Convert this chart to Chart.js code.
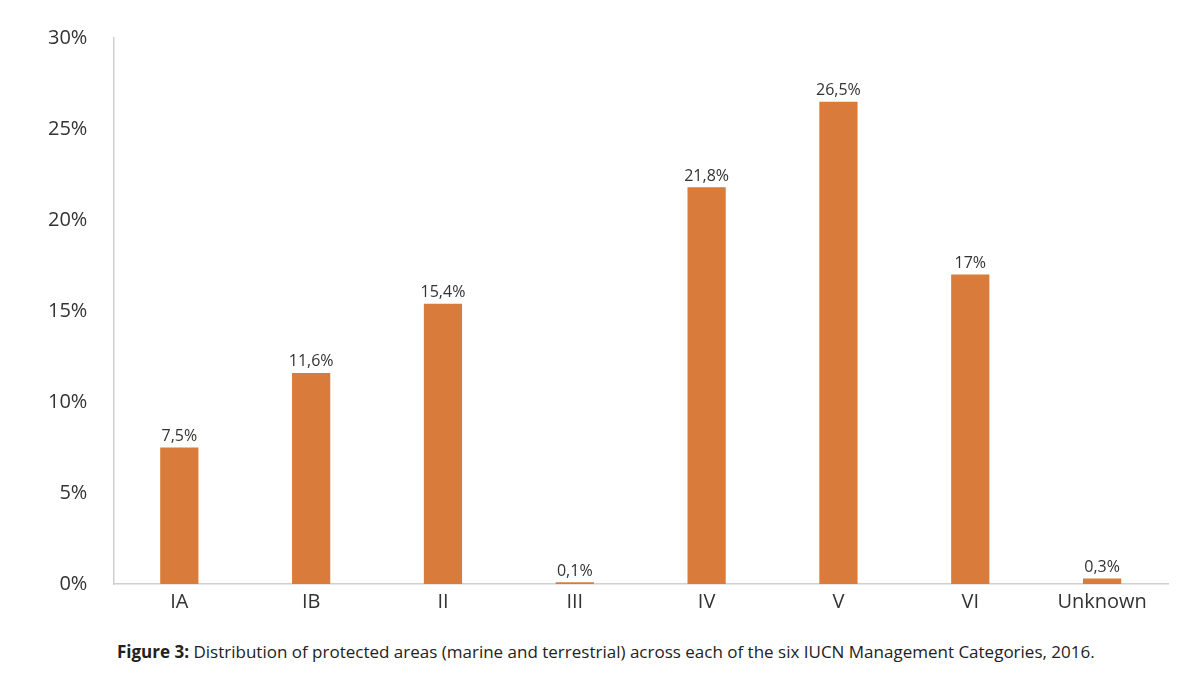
<!DOCTYPE html>
<html>
<head>
<meta charset="utf-8">
<script src="https://cdn.jsdelivr.net/npm/chart.js@4/dist/chart.umd.min.js"></script>
<style>
  body { margin: 0; background: #fff; font-family: "Open Sans", sans-serif; }
  #wrap { position: relative; width: 1200px; height: 622px; }
  #caption { position: absolute; left: 117px; top: 640px; font-size: 17px; color: #222; }
</style>
</head>
<body>
<div id="wrap"><canvas id="chart"></canvas></div>
<div id="caption"><b>Figure 3:</b> Distribution of protected areas (marine and terrestrial) across each of the six IUCN Management Categories, 2016.</div>
<script>
const categories = ['IA', 'IB', 'II', 'III', 'IV', 'V', 'VI', 'Unknown'];
const shares = [7.5, 11.6, 15.4, 0.1, 21.8, 26.5, 17, 0.3];
const shareLabels = ['7,5%', '11,6%', '15,4%', '0,1%', '21,8%', '26,5%', '17%', '0,3%'];

// draws the value text above each bar
const barLabels = {
    id: 'barLabels',
    afterDatasetsDraw(chart) {
        const ctx = chart.ctx;
        const meta = chart.getDatasetMeta(0);
        ctx.save();
        ctx.font = '16px "Open Sans"';
        ctx.fillStyle = '#333';
        ctx.textAlign = 'center';
        ctx.textBaseline = 'bottom';
        meta.data.forEach((bar, i) => {
            ctx.fillText(shareLabels[i], bar.x, bar.y - 3);
        });
        ctx.restore();
    }
};

new Chart(document.getElementById('chart'), {
    type: 'bar',
    data: {
        labels: categories,
        datasets: [{
            data: shares,
            backgroundColor: '#d97b3a',
            categoryPercentage: 1,
            barPercentage: 0.29
        }]
    },
    options: {
        responsive: true,
        maintainAspectRatio: false,
        animation: false,
        layout: { padding: { left: 22, right: 32, top: 30, bottom: 0 } },
        plugins: { legend: { display: false }, tooltip: { enabled: false } },
        scales: {
            x: {
                grid: { display: false, drawTicks: false },
                border: { color: '#d0d0d0', width: 1.5 },
                ticks: { color: '#333', font: { family: 'Open Sans', size: 20 }, padding: 6 }
            },
            y: {
                min: 0,
                max: 30,
                grid: { display: false, drawTicks: false },
                border: { color: '#d0d0d0', width: 1.5 },
                ticks: {
                    stepSize: 5,
                    color: '#333',
                    padding: 26,
                    font: { family: 'Open Sans', size: 20 },
                    callback: v => v + '%'
                }
            }
        }
    },
    plugins: [barLabels]
});
</script>
</body>
</html>
